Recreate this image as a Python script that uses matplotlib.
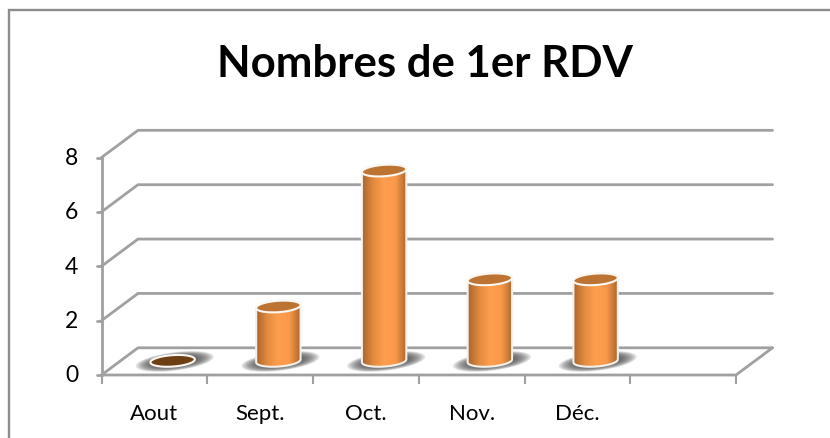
import numpy as np
import matplotlib
matplotlib.use("Agg")
import matplotlib.pyplot as plt
from matplotlib.patches import Polygon
from matplotlib.lines import Line2D
from matplotlib.colors import LinearSegmentedColormap

categories = ["Aout", "Sept.", "Oct.", "Nov.", "Déc."]
values = [0, 2, 7, 3, 3]
y_ticks = [0, 2, 4, 6, 8]
title = "Nombres de 1er RDV"
n_slots = 6

W, H = 830, 439
plt.rcParams["font.family"] = ["Lato", "DejaVu Sans"]
fig = plt.figure(figsize=(W / 100, H / 100), dpi=100, facecolor="white")
# only the top and left edges of the chart frame fall inside the picture
fig.add_artist(Line2D([8.5 / W, 8.5 / W, 1], [0, 1 - 10.5 / H, 1 - 10.5 / H], transform=fig.transFigure,
                      color="#8c8c8c", lw=1.7, zorder=-1, solid_joinstyle="miter"))

L, R, T, B = 101.5, 736.0, 158.5, 376.0
ax = fig.add_axes([L / W, 1 - B / H, (R - L) / W, (B - T) / H])
ax.set_facecolor("none")
for s in ax.spines.values():
    s.set_visible(False)
ax.set_xticks([])
ax.set_yticks([])

# depth of the 3-D box, in data units
DX, DY = 0.345, 1.0
GRID = "#a0a0a0"
lw = 2.0
kw = dict(color=GRID, lw=lw, clip_on=False, solid_capstyle="round", zorder=1)
for v in y_ticks:
    ax.plot([0, DX, n_slots + DX], [v, v + DY, v + DY], **kw)
    ax.plot([-0.04, 0], [v, v], **kw)
ax.plot([0, 0], [0, 8], **kw)
ax.plot([0, n_slots, n_slots + DX], [0, 0, DY], **kw)
for i in range(n_slots + 1):
    ax.plot([i, i], [0, -0.28], color=GRID, lw=1.5, clip_on=False, zorder=1)

for v in y_ticks:
    ax.text(-0.22, v, str(v), ha="right", va="center", fontsize=16.5, color="black", clip_on=False)
for i, c in enumerate(categories):
    ax.text(i + 0.5, -1.4, c, ha="center", va="center", fontsize=16, color="black", clip_on=False)
fig.text(425 / W, 1 - 64 / H, title, ha="center", va="center", fontsize=31.5, fontweight="bold", color="black")

# cylinders
BW = 0.42     # diameter in x units
EH = 0.42     # ellipse height in y units
TILT = 0.11   # y rise across the width
cmap = LinearSegmentedColormap.from_list("cyl", ["#a9652c", "#e28a3f", "#ff9f4d", "#f8984a", "#a9652c"])
grad = np.linspace(0, 1, 256)[None, :]


def ellipse_xy(cx, cy, t):
    a = BW / 2
    b = EH / 2
    return cx + a * np.cos(t), cy + b * np.sin(t) + TILT * np.cos(t) / 2


for i, v in enumerate(values):
    cx = i + 0.5 + DX / 2
    base = DY / 2 + 0.02
    # soft floor shadow
    for k, sc in enumerate(np.linspace(1.0, 0.5, 14)):
        t = np.linspace(0, 2 * np.pi, 80)
        sx = cx + 0.02 + 0.37 * sc * np.cos(t)
        sy = base - 0.02 + 0.34 * sc * np.sin(t) + 0.17 * sc * np.cos(t)
        ax.fill(sx, sy, color="#4d4d4d", alpha=0.13, lw=0, zorder=2, clip_on=False)
    t = np.linspace(0, 2 * np.pi, 120)
    if v > 0:
        tb = np.linspace(np.pi, 2 * np.pi, 60)
        xb, yb = ellipse_xy(cx, base, tb)
        tt = np.linspace(0, np.pi, 60)
        xt, yt = ellipse_xy(cx, base + v, tt)
        xs = np.r_[xb, xt]
        ys = np.r_[yb, yt]
        im = ax.imshow(grad, extent=[cx - BW / 2, cx + BW / 2, base - 1, base + v + 1], cmap=cmap,
                       aspect="auto", zorder=3, interpolation="bilinear")
        p = Polygon(np.c_[xs, ys], closed=True, transform=ax.transData, fc="none", ec="none")
        ax.add_patch(p)
        im.set_clip_path(p)
        ax.add_patch(Polygon(np.c_[xs, ys], closed=True, fc="none", ec="#f4f0ec", lw=1.5, zorder=4))
        xe, ye = ellipse_xy(cx, base + v, t)
        ax.fill(xe, ye, fc="#bd7433", ec="#fbf7f2", lw=1.5, zorder=5, clip_on=False)
    else:
        xe, ye = ellipse_xy(cx, base, t)
        ax.fill(xe, ye, fc="#6f3f14", ec="#fbf7f2", lw=1.5, zorder=5, clip_on=False)

ax.set_xlim(0, n_slots)
ax.set_ylim(0, 8)
fig.savefig("out.png", dpi=100, facecolor="white")
